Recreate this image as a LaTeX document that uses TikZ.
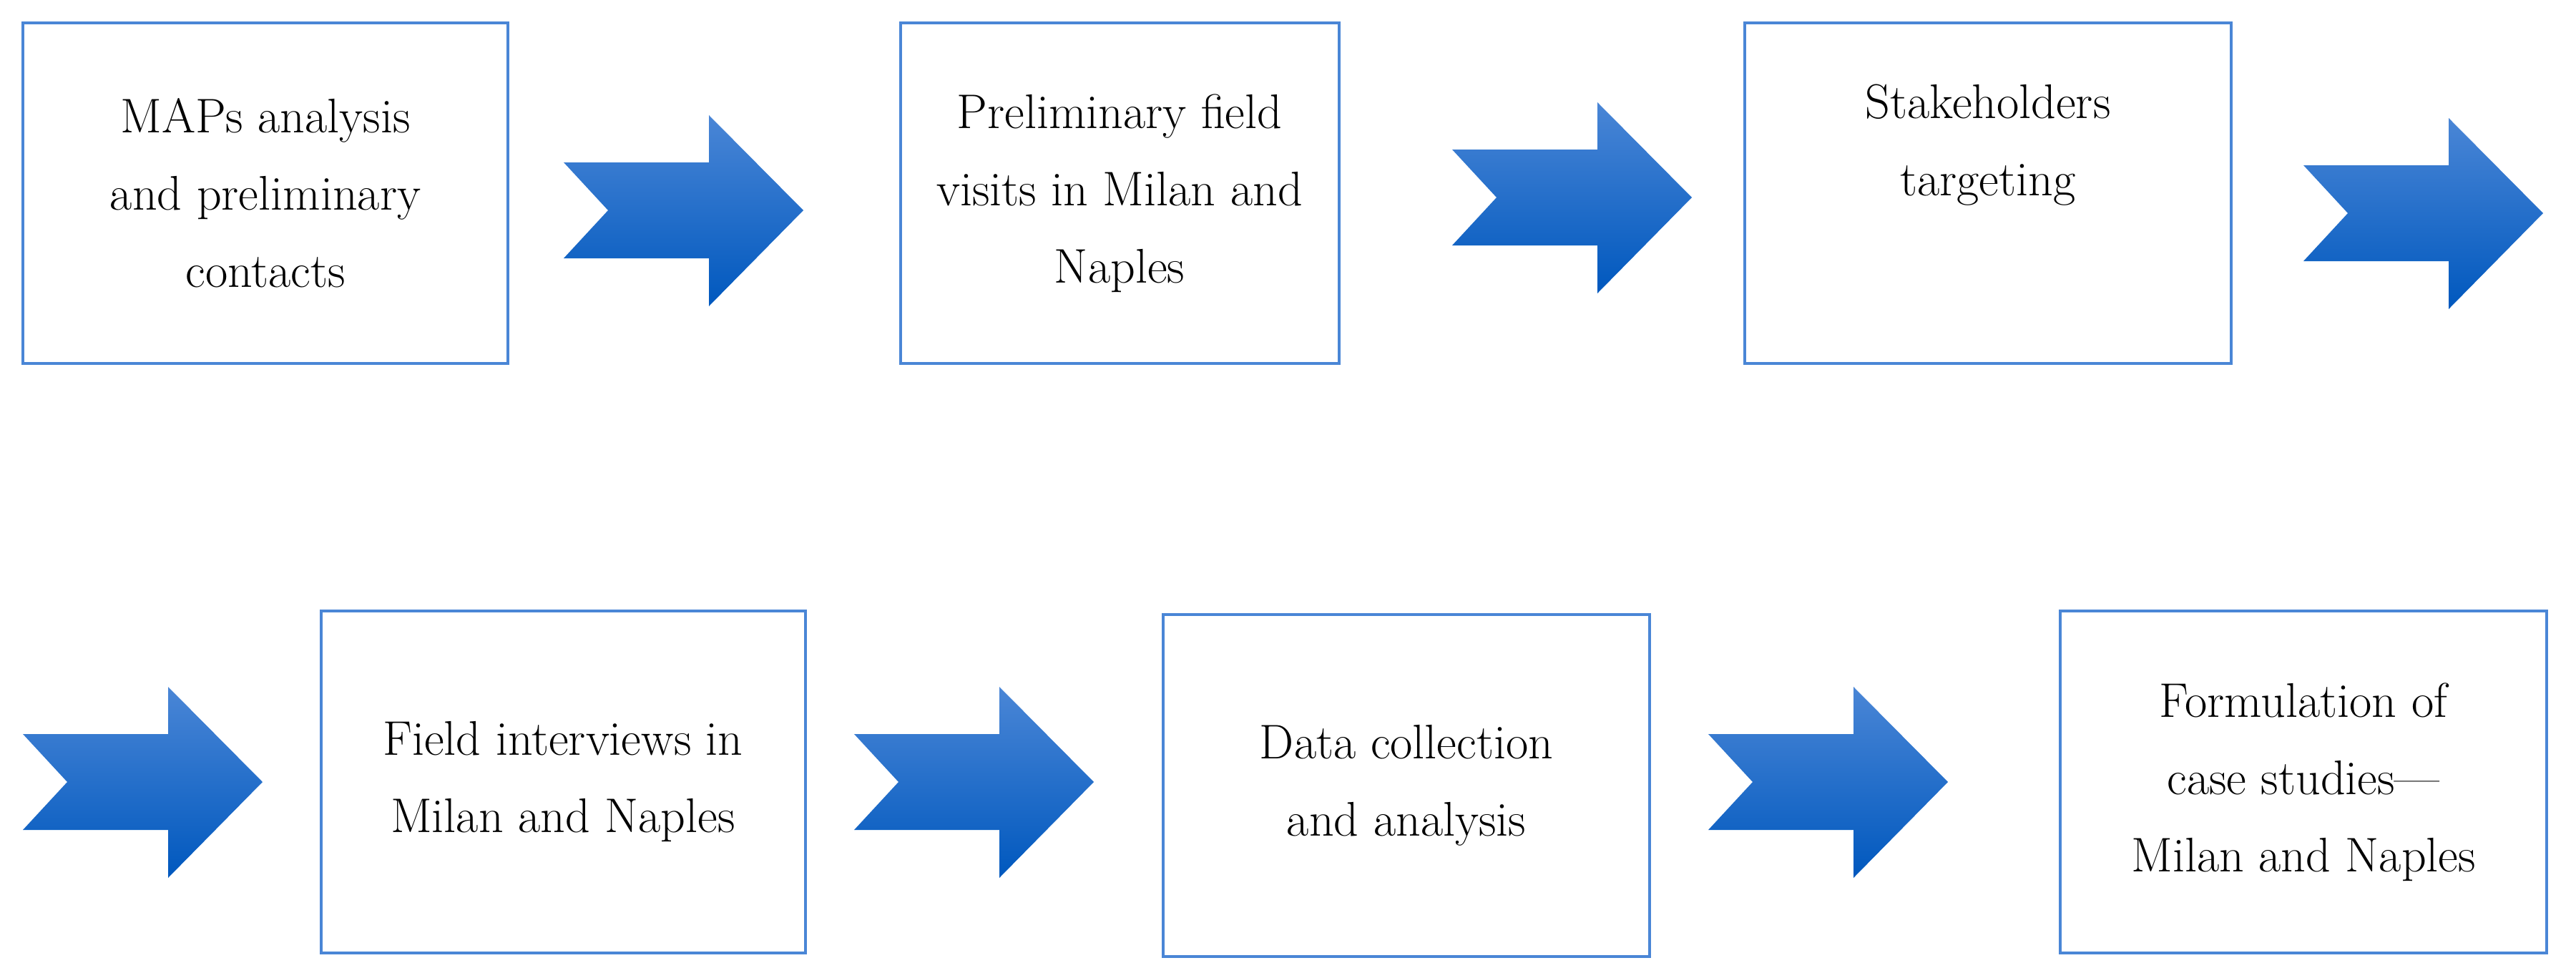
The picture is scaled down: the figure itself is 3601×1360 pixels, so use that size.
\documentclass[tikz,border=0pt]{standalone}
\definecolor{boxblue}{HTML}{4A86D6}
\definecolor{arrtop}{HTML}{4A86D6}
\definecolor{arrbot}{HTML}{0058BE}
\tikzset{
  procbox/.style={draw=boxblue, line width=4pt, fill=white, align=center,
    font=\fontsize{68}{108}\selectfont, inner sep=0pt},
  blk/.style={top color=arrtop, bottom color=arrbot, draw=none},
}
\newcommand{\blkarrow}[2]{% #1 left x, #2 centre y
  \path[blk] (#1,#2-67) -- ++(203,0) -- ++(0,-66) -- ++(132,133) -- ++(-132,134)
    -- ++(0,-67) -- ++(-203,0) -- ++(62,-67) -- cycle;}
\begin{document}
\begin{tikzpicture}[x=1pt,y=-1pt]
\useasboundingbox (0,0) rectangle (3601,1360);
\node[procbox, minimum width=678, minimum height=476] (b1) at (371,270) {MAPs analysis\\and preliminary\\contacts};
\node[procbox, minimum width=613, minimum height=476] (b2) at (1565,270) {Preliminary field\\visits in Milan and\\Naples};
\node[procbox, minimum width=680, minimum height=476] (b3) at (2779,270) {Stakeholders\\targeting\\[40pt]};
\node[procbox, minimum width=677, minimum height=478] (b4) at (787,1093) {Field interviews in\\Milan and Naples};
\node[procbox, minimum width=680, minimum height=478] (b5) at (1966,1098) {Data collection\\and analysis};
\node[procbox, minimum width=680, minimum height=478] (b6) at (3220,1093) {Formulation of\\case studies---\\Milan and Naples};
\blkarrow{788}{294}
\blkarrow{2030}{276}
\blkarrow{3220}{298}
\blkarrow{32}{1093}
\blkarrow{1194}{1093}
\blkarrow{2388}{1093}
\end{tikzpicture}
\end{document}
